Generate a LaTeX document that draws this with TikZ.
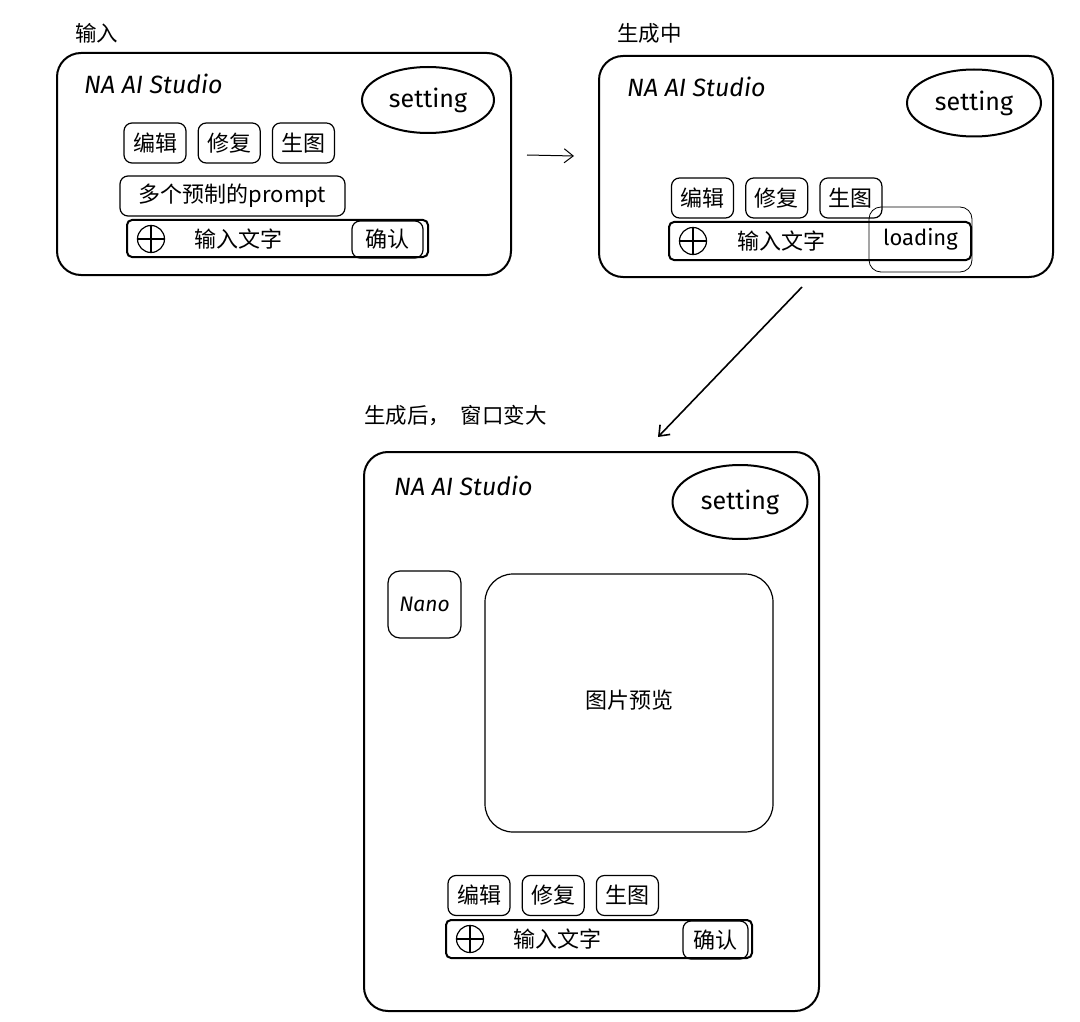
\documentclass[tikz,border=0pt]{standalone}
\usepackage{fontspec}
\setmainfont{Noto Sans CJK SC}
\newfontfamily\hand{Fira Sans}
\usepackage{tikz}
\usetikzlibrary{shapes.geometric, arrows.meta, positioning}

\tikzset{
  window/.style={draw, line width=2pt, rounded corners=24pt, inner sep=0pt},
  btn/.style={draw, line width=1.2pt, rounded corners=8pt, minimum width=62pt,
    minimum height=40pt, inner sep=0pt, font=\fontsize{22}{26}\selectfont},
  bar/.style={draw, line width=2pt, rounded corners=5pt, minimum height=38pt, inner sep=0pt},
  setting/.style={draw, ellipse, line width=2pt, inner sep=0pt, font=\hand\fontsize{25}{30}\selectfont},
  apptitle/.style={anchor=west, inner sep=0pt, font=\hand\itshape\fontsize{25}{30}\selectfont},
  caption/.style={anchor=west, inner sep=0pt, font=\fontsize{21.5}{26}\selectfont},
  plus/.style={draw, circle, line width=1.2pt, minimum size=27pt, inner sep=0pt},
  txt/.style={inner sep=0pt, font=\fontsize{22}{26}\selectfont}
}

\begin{document}
\begin{tikzpicture}[x=1pt, y=-1pt, >={Straight Barb[length=9pt, width=14pt]}]
  \useasboundingbox (0,0) rectangle (1080,1022);

  % captions
  \node[caption] (cap1) at (75,33) {输入};
  \node[caption] (cap2) at (617,33) {生成中};
  \node[caption] (cap3) at (364,416) {生成后，\hspace{0.5em}窗口变大};

  % windows
  \node[window, minimum width=454pt, minimum height=222pt] (win1) at (284,164) {};
  \node[window, minimum width=454pt, minimum height=221pt] (win2) at (826,166.5) {};
  \node[window, minimum width=455pt, minimum height=559pt] (win3) at (591.5,731.5) {};

  \node[apptitle] (title1) at (84,84) {NA AI Studio};
  \node[apptitle] (title2) at (627,87) {NA AI Studio};
  \node[apptitle] (title3) at (394,486) {NA AI Studio};

  \node[setting, minimum width=132pt, minimum height=66pt] (set1) at (428,100) {setting};
  \node[setting, minimum width=134pt, minimum height=67pt] (set2) at (974,103) {setting};
  \node[setting, minimum width=135pt, minimum height=74pt] (set3) at (740,502) {setting};

  % button rows
  \foreach \w/\x/\y in {1/155/143, 2/702.5/198, 3/479/895.5} {
    \node[btn] (edit\w) at (\x,\y) {编辑};
    \node[btn, right=11pt of edit\w] (fix\w) {修复};
    \node[btn, right=11pt of fix\w] (gen\w) {生图};
  }

  % window 1
  \node[btn, minimum width=225pt] (prompt1) at (232.5,196) {多个预制的prompt};
  \node[bar, minimum width=301pt, minimum height=37pt] (bar1) at (277.5,238.5) {};
  \node[btn, minimum width=71pt, minimum height=37pt] (ok1) at (387.5,239.5) {确认};
  \node[plus] (add1) at (151,239) {};
  \draw[line width=1.2pt] (add1.north) -- (add1.south) (add1.west) -- (add1.east);
  \node[txt] (in1) at (238,239) {输入文字};

  % window 2
  \node[bar, minimum width=302pt] (bar2) at (820,241) {};
  \node[plus] (add2) at (693,241) {};
  \draw[line width=1.2pt] (add2.north) -- (add2.south) (add2.west) -- (add2.east);
  \node[txt] (in2) at (781,241) {输入文字};
  \node[draw, line width=0.8pt, rounded corners=12pt, minimum width=103pt,
        minimum height=65pt, inner sep=0pt, font=\hand\fontsize{22}{26}\selectfont]
        (load2) at (920.5,239.5) {loading};

  % window 3
  \node[draw, line width=1.2pt, rounded corners=12pt, minimum width=73pt,
        minimum height=67pt, inner sep=0pt, font=\hand\itshape\fontsize{21}{25}\selectfont]
        (nano3) at (424.5,604.5) {Nano};
  \node[draw, line width=1.2pt, rounded corners=28pt, minimum width=288pt,
        minimum height=258pt, inner sep=0pt] (view3) at (629,703) {};
  \node[txt] (viewtxt3) at (629,700) {图片预览};
  \node[bar, minimum width=306pt] (bar3) at (599,939) {};
  \node[btn, minimum width=65pt, minimum height=38pt] (ok3) at (715.5,940) {确认};
  \node[plus] (add3) at (470,939) {};
  \draw[line width=1.2pt] (add3.north) -- (add3.south) (add3.west) -- (add3.east);
  \node[txt] (in3) at (557,939) {输入文字};

  % arrows
  \coordinate (a1s) at (527,155);
  \coordinate (a1e) at (574,156);
  \coordinate (a2s) at (802,287);
  \coordinate (a2e) at (658,437);
  \draw[->, line width=1pt] (a1s) -- (a1e);
  \draw[->, line width=1.6pt] (a2s) -- (a2e);
\end{tikzpicture}
\end{document}
